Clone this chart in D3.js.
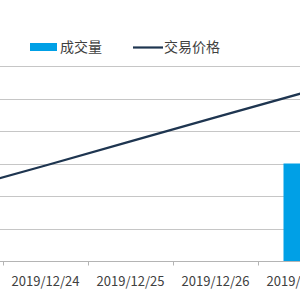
<!DOCTYPE html>
<html>
<head>
<meta charset="utf-8">
<script src="https://cdn.jsdelivr.net/npm/d3@7"></script>
<style>
  body { margin: 0; background: #fff; }
  svg { display: block; }
</style>
</head>
<body>
<script>
// data
var dates = ["2019/12/23", "2019/12/24", "2019/12/25", "2019/12/26", "2019/12/27"];
var volume = [0, 0, 0, 0, 3.0];
var price = [22.1, 29.4, 36.8, 44.2, 51.5];
var gridTicks = [0, 1, 2, 3, 4, 5, 6];

var width = 300, height = 300;
var plotTop = 66, plotBottom = 261;

var svg = d3.select("body").append("svg")
    .attr("width", width)
    .attr("height", height);

// x: the chart is cropped, so the band range runs past the edges
var x = d3.scaleBand().domain(dates).range([-82, 343]).padding(0);
var yVol = d3.scaleLinear().domain([0, 6]).range([plotBottom, plotTop]);
var yPrice = d3.scaleLinear().domain([0, 60]).range([plotBottom, plotTop]);

// gridlines
svg.append("g").selectAll("line")
    .data(gridTicks.slice(1))
    .enter().append("line")
    .attr("x1", 0).attr("x2", width)
    .attr("y1", function(d){ return Math.round(yVol(d)) + 0.5; })
    .attr("y2", function(d){ return Math.round(yVol(d)) + 0.5; })
    .attr("stroke", "#c6c6c6")
    .attr("stroke-width", 1);

// bars
var barW = x.bandwidth() * 0.4;
svg.append("g").selectAll("rect")
    .data(dates)
    .enter().append("rect")
    .attr("x", function(d){ return x(d) + (x.bandwidth() - barW) / 2; })
    .attr("width", barW)
    .attr("y", function(d, i){ return yVol(volume[i]); })
    .attr("height", function(d, i){ return plotBottom - yVol(volume[i]); })
    .attr("fill", "#00a0e6");

// x axis
var xAxis = d3.axisBottom(x).tickSize(0).tickPadding(15);
var gx = svg.append("g")
    .attr("transform", "translate(0," + (plotBottom + 0.5) + ")")
    .call(xAxis);
gx.select(".domain").attr("stroke", "#b4b4b4").attr("d", "M0,0H" + width);
gx.selectAll("text")
    .attr("fill", "#404040")
    .attr("font-size", 13)
    .attr("font-family", "'Noto Sans CJK SC', 'Noto Sans', sans-serif");
// tick marks at band boundaries
gx.selectAll(".bnd")
    .data(dates)
    .enter().append("line")
    .attr("class", "bnd")
    .attr("x1", function(d){ return Math.round(x(d) + x.bandwidth()) + 0.5; })
    .attr("x2", function(d){ return Math.round(x(d) + x.bandwidth()) + 0.5; })
    .attr("y1", 0).attr("y2", 4)
    .attr("stroke", "#b4b4b4");

// price line
var line = d3.line()
    .x(function(d, i){ return x(dates[i]) + x.bandwidth() / 2; })
    .y(function(d){ return yPrice(d); });
svg.append("path")
    .datum(price)
    .attr("d", line)
    .attr("fill", "none")
    .attr("stroke", "#1e3550")
    .attr("stroke-width", 2.2);

// legend
var lg = svg.append("g").attr("font-family", "'Noto Sans CJK SC', sans-serif")
    .attr("font-size", 14).attr("fill", "#404040");
lg.append("rect").attr("x", 30).attr("y", 43).attr("width", 27).attr("height", 8).attr("fill", "#00a0e6");
lg.append("text").attr("x", 60).attr("y", 52).text("成交量");
lg.append("line").attr("x1", 133).attr("x2", 163).attr("y1", 47.5).attr("y2", 47.5)
    .attr("stroke", "#1e3550").attr("stroke-width", 2.2);
lg.append("text").attr("x", 164).attr("y", 52).text("交易价格");
</script>
</body>
</html>
